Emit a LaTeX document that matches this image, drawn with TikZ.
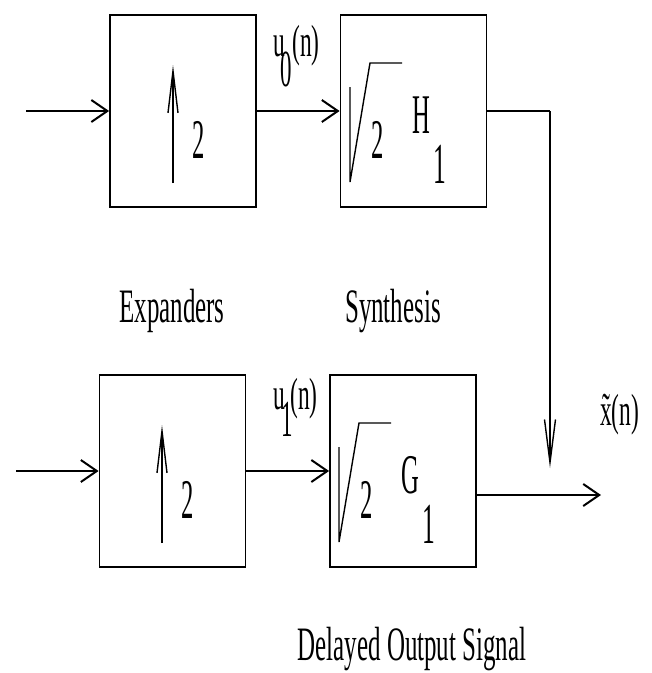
\documentclass[tikz,border=0pt]{standalone}
\usepackage{fontspec}
\setmainfont[FakeStretch=0.52]{Liberation Serif}
\newfontfamily\tallfont[FakeStretch=0.44]{Liberation Serif}
\usetikzlibrary{arrows.meta}
\tikzset{
  blk/.style={draw, line width=1.8pt, minimum width=146pt, minimum height=192pt, inner sep=0pt},
  sig/.style={line width=2.2pt, -{Straight Barb[length=16pt,width=22pt,line width=2pt]}},
  thin/.style={line width=1.4pt},
  upar/.style={line width=1.4pt, -{Straight Barb[length=42pt,width=10pt,line width=1.4pt]}},
  lbl/.style={font=\fontsize{48}{48}\selectfont, inner sep=0pt, anchor=base},
  sl/.style={font=\fontsize{45}{45}\selectfont, inner sep=0pt, anchor=base west},
  big/.style={font=\tallfont\fontsize{56}{56}\selectfont, inner sep=0pt, anchor=base},
  idx/.style={font=\tallfont\fontsize{58}{58}\selectfont, inner sep=0pt, anchor=base},
}
\newcommand{\lowidx}[2]{\raisebox{-#1pt}{\tallfont\fontsize{52}{52}\selectfont #2}}
\begin{document}
\begin{tikzpicture}[x=1pt,y=-1pt]
\useasboundingbox (0,0) rectangle (652,673);
% top row
\node[blk] (e0) at (183,111) {};
\node[blk] (s0) at (413.5,111) {};
% bottom row
\node[blk] (e1) at (172.5,471) {};
\node[blk] (s1) at (403,471) {};
% connectors
\coordinate (in0) at (26,111);
\coordinate (in1) at (16,471);
\coordinate (j) at (550,111);
\coordinate (jt) at (550,468);
\coordinate (out) at (601,495);
\draw[sig] (in0) -- (e0.west);
\draw[sig] (e0.east) -- (s0.west);
\draw[sig] (in1) -- (e1.west);
\draw[sig] (e1.east) -- (s1.west);
\draw[line width=2.2pt] (s0.east) -- (j);
\draw[line width=1.4pt, -{Straight Barb[length=43pt,width=11pt,line width=1.4pt]}] (j) -- (jt);
\draw[sig] (s1.east |- out) -- (out);
% box contents top
\draw[upar] (173,183) -- (173,65);
\node[big] (two0) at (199,158) {2};
\draw[thin] (350,87) -- (350,182) -- (370,63) -- (402,63);
\node[big] (r0) at (377.5,158) {2};
\node[big] (h0) at (421.5,133) {H};
\node[idx] (h0s) at (440,183) {1};
% box contents bottom
\begin{scope}[shift={(-11,360)}]
\draw[upar] (173,183) -- (173,65);
\node[big] (two1) at (199,158) {2};
\draw[thin] (350,87) -- (350,182) -- (370,63) -- (402,63);
\node[big] (r1) at (377.5,158) {2};
\node[big] (g1) at (421.5,133) {G};
\node[idx] (g1s) at (440,183) {1};
\end{scope}
% signal labels
\node[sl] (u0) at (273,56) {u\kern-4pt\lowidx{30}{0}(n)};
\node[sl] (u1) at (273,409) {u\kern-3pt\lowidx{27}{1}\kern-3pt(n)};
\node[sl] (xt) at (600,425) {\~{x}(n)};
% captions
\node[lbl] (cap1) at (172,322) {Expanders};
\node[lbl] (cap2) at (393,322) {Synthesis};
\node[lbl] (cap3) at (412,660) {Delayed Output Signal};
\end{tikzpicture}
\end{document}
